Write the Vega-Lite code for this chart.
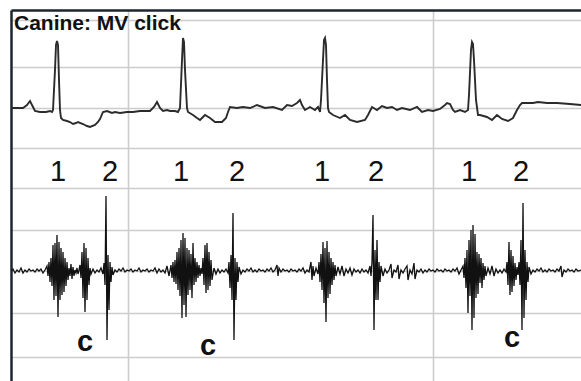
{
  "$schema": "https://vega.github.io/schema/vega-lite/v6.json",
  "width": 570,
  "height": 371,
  "autosize": "none",
  "padding": {"left": 11, "top": 10, "right": 0, "bottom": 0},
  "background": "white",
  "config": {"view": {"stroke": null}},
  "datasets": {
    "ecg": [
      {"t":11,"v":108},{"t":23,"v":108},{"t":27,"v":105},{"t":30,"v":101},{"t":33,"v":107},{"t":35,"v":111},{"t":40,"v":112},{"t":46,"v":112},{"t":50,"v":111},{"t":52,"v":112},{"t":53,"v":110},{"t":55,"v":70},{"t":56,"v":45},{"t":57,"v":41},{"t":58,"v":45},{"t":59,"v":80},{"t":60,"v":110},{"t":61,"v":118},{"t":63,"v":120},{"t":67,"v":121},{"t":70,"v":122},{"t":73,"v":124},{"t":76,"v":123},{"t":78,"v":122},{"t":83,"v":124},{"t":87,"v":126},{"t":90,"v":127},{"t":95,"v":125},{"t":98,"v":122},{"t":100,"v":119},{"t":103,"v":112},{"t":107,"v":111},{"t":112,"v":113},{"t":115,"v":112},{"t":120,"v":113},{"t":127,"v":112},{"t":133,"v":112},{"t":140,"v":111},{"t":145,"v":111},{"t":150,"v":111},{"t":154,"v":107},{"t":157,"v":102},{"t":160,"v":108},{"t":163,"v":111},{"t":167,"v":110},{"t":170,"v":111},{"t":175,"v":111},{"t":178,"v":112},{"t":180,"v":108},{"t":182,"v":60},{"t":183,"v":38},{"t":184,"v":42},{"t":185,"v":70},{"t":187,"v":108},{"t":188,"v":112},{"t":193,"v":115},{"t":197,"v":118},{"t":200,"v":120},{"t":203,"v":117},{"t":205,"v":115},{"t":210,"v":118},{"t":215,"v":122},{"t":222,"v":122},{"t":226,"v":118},{"t":228,"v":112},{"t":230,"v":107},{"t":237,"v":108},{"t":243,"v":107},{"t":250,"v":108},{"t":257,"v":105},{"t":265,"v":108},{"t":273,"v":107},{"t":282,"v":110},{"t":287,"v":105},{"t":292,"v":106},{"t":297,"v":103},{"t":300,"v":100},{"t":302,"v":105},{"t":305,"v":110},{"t":310,"v":107},{"t":315,"v":110},{"t":318,"v":107},{"t":320,"v":112},{"t":321,"v":100},{"t":323,"v":60},{"t":324,"v":40},{"t":325,"v":38},{"t":326,"v":45},{"t":327,"v":80},{"t":328,"v":108},{"t":329,"v":112},{"t":333,"v":115},{"t":340,"v":118},{"t":345,"v":115},{"t":350,"v":120},{"t":357,"v":122},{"t":365,"v":120},{"t":368,"v":115},{"t":372,"v":107},{"t":377,"v":110},{"t":382,"v":106},{"t":387,"v":108},{"t":392,"v":107},{"t":397,"v":110},{"t":402,"v":108},{"t":410,"v":110},{"t":417,"v":107},{"t":422,"v":112},{"t":428,"v":110},{"t":433,"v":111},{"t":440,"v":109},{"t":445,"v":105},{"t":447,"v":103},{"t":450,"v":104},{"t":453,"v":110},{"t":455,"v":112},{"t":460,"v":110},{"t":465,"v":112},{"t":468,"v":110},{"t":469,"v":95},{"t":471,"v":50},{"t":472,"v":42},{"t":473,"v":44},{"t":474,"v":60},{"t":476,"v":100},{"t":478,"v":115},{"t":480,"v":115},{"t":487,"v":117},{"t":492,"v":120},{"t":497,"v":115},{"t":502,"v":119},{"t":508,"v":121},{"t":513,"v":118},{"t":517,"v":110},{"t":520,"v":105},{"t":522,"v":103},{"t":533,"v":103},{"t":538,"v":102},{"t":547,"v":103},{"t":557,"v":103},{"t":570,"v":104},{"t":581,"v":105}
    ],
    "pcg": [
      {"t":11,"v":271},{"t":13,"v":269},{"t":15,"v":273},{"t":17,"v":270},{"t":19,"v":272},{"t":21,"v":268},{"t":23,"v":273},{"t":25,"v":270},{"t":27,"v":272},{"t":29,"v":269},{"t":31,"v":271},{"t":33,"v":270},{"t":35,"v":272},{"t":37,"v":269},{"t":39,"v":271},{"t":41,"v":269},{"t":43,"v":273},{"t":45,"v":270},{"t":47,"v":266},{"t":48,"v":276},
      {"t":49,"v":262},{"t":50,"v":282},{"t":51,"v":258},{"t":52,"v":286},{"t":53,"v":245},{"t":54,"v":300},{"t":55,"v":243},{"t":56,"v":296},{"t":57,"v":235},{"t":58,"v":317},{"t":59,"v":242},{"t":60,"v":300},{"t":61,"v":248},{"t":62,"v":295},{"t":63,"v":252},{"t":64,"v":292},{"t":65,"v":258},{"t":66,"v":286},{"t":67,"v":262},{"t":68,"v":280},{"t":69,"v":268},{"t":70,"v":276},{"t":71,"v":264},{"t":72,"v":279},{"t":73,"v":267},{"t":74,"v":276},{"t":75,"v":270},{"t":76,"v":273},{"t":77,"v":268},{"t":78,"v":274},{"t":79,"v":270},
      {"t":80,"v":265},{"t":81,"v":278},{"t":82,"v":252},{"t":83,"v":298},{"t":84,"v":243},{"t":85,"v":312},{"t":86,"v":248},{"t":87,"v":300},{"t":88,"v":258},{"t":89,"v":285},{"t":90,"v":268},{"t":91,"v":274},{"t":93,"v":269},{"t":95,"v":273},{"t":97,"v":270},{"t":99,"v":272},{"t":101,"v":268},{"t":103,"v":274},
      {"t":104,"v":263},{"t":105,"v":285},{"t":106,"v":196},{"t":107,"v":340},{"t":108,"v":255},{"t":109,"v":310},{"t":110,"v":262},{"t":111,"v":282},{"t":112,"v":267},{"t":113,"v":275},{"t":115,"v":270},
      {"t":117,"v":272},{"t":119,"v":269},{"t":121,"v":271},{"t":123,"v":268},{"t":125,"v":272},{"t":127,"v":270},{"t":129,"v":271},{"t":131,"v":269},{"t":133,"v":272},{"t":135,"v":270},{"t":137,"v":271},{"t":139,"v":268},{"t":141,"v":272},{"t":143,"v":270},{"t":145,"v":271},{"t":147,"v":269},{"t":149,"v":272},{"t":151,"v":270},{"t":153,"v":271},{"t":155,"v":268},{"t":157,"v":273},{"t":159,"v":269},{"t":161,"v":272},{"t":163,"v":270},{"t":165,"v":273},{"t":167,"v":266},{"t":169,"v":276},{"t":171,"v":265},{"t":172,"v":278},
      {"t":173,"v":262},{"t":174,"v":282},{"t":175,"v":260},{"t":176,"v":284},{"t":177,"v":252},{"t":178,"v":290},{"t":179,"v":248},{"t":180,"v":296},{"t":181,"v":240},{"t":182,"v":318},{"t":183,"v":233},{"t":184,"v":305},{"t":185,"v":238},{"t":186,"v":317},{"t":187,"v":248},{"t":188,"v":295},{"t":189,"v":250},{"t":190,"v":290},{"t":191,"v":254},{"t":192,"v":298},{"t":193,"v":243},{"t":194,"v":285},{"t":195,"v":258},{"t":196,"v":282},{"t":197,"v":262},{"t":198,"v":278},{"t":199,"v":265},{"t":200,"v":276},{"t":201,"v":268},{"t":202,"v":274},
      {"t":203,"v":258},{"t":204,"v":285},{"t":205,"v":245},{"t":206,"v":293},{"t":207,"v":243},{"t":208,"v":290},{"t":209,"v":252},{"t":210,"v":286},{"t":211,"v":260},{"t":212,"v":280},{"t":214,"v":268},{"t":216,"v":274},{"t":218,"v":269},{"t":220,"v":273},{"t":222,"v":270},{"t":224,"v":272},{"t":226,"v":269},{"t":228,"v":273},
      {"t":229,"v":262},{"t":230,"v":288},{"t":231,"v":255},{"t":232,"v":300},{"t":233,"v":213},{"t":234,"v":340},{"t":235,"v":258},{"t":236,"v":300},{"t":237,"v":262},{"t":238,"v":282},{"t":239,"v":267},{"t":241,"v":274},{"t":243,"v":270},
      {"t":245,"v":272},{"t":247,"v":269},{"t":249,"v":271},{"t":251,"v":268},{"t":253,"v":272},{"t":255,"v":270},{"t":257,"v":272},{"t":259,"v":269},{"t":261,"v":271},{"t":263,"v":270},{"t":265,"v":272},{"t":267,"v":269},{"t":269,"v":271},{"t":271,"v":268},{"t":273,"v":272},{"t":275,"v":270},{"t":277,"v":265},{"t":278,"v":276},{"t":279,"v":268},{"t":281,"v":272},{"t":283,"v":269},{"t":285,"v":271},{"t":287,"v":270},{"t":289,"v":272},{"t":291,"v":269},{"t":293,"v":271},{"t":295,"v":270},{"t":297,"v":272},{"t":299,"v":269},{"t":301,"v":271},{"t":303,"v":268},{"t":305,"v":273},{"t":307,"v":270},{"t":309,"v":272},{"t":311,"v":262},{"t":312,"v":280},{"t":313,"v":266},{"t":314,"v":276},{"t":316,"v":268},{"t":318,"v":274},
      {"t":319,"v":262},{"t":320,"v":282},{"t":321,"v":254},{"t":322,"v":290},{"t":323,"v":242},{"t":324,"v":303},{"t":325,"v":248},{"t":326,"v":322},{"t":327,"v":241},{"t":328,"v":298},{"t":329,"v":252},{"t":330,"v":294},{"t":331,"v":258},{"t":332,"v":285},{"t":333,"v":262},{"t":334,"v":280},{"t":335,"v":265},{"t":336,"v":276},{"t":338,"v":267},{"t":340,"v":274},{"t":342,"v":266},{"t":344,"v":276},{"t":346,"v":269},{"t":348,"v":273},{"t":350,"v":268},{"t":352,"v":275},{"t":354,"v":269},{"t":356,"v":272},{"t":358,"v":270},{"t":360,"v":273},{"t":362,"v":269},{"t":364,"v":272},{"t":366,"v":270},{"t":368,"v":273},{"t":370,"v":266},
      {"t":371,"v":276},{"t":372,"v":262},{"t":373,"v":215},{"t":374,"v":330},{"t":375,"v":250},{"t":376,"v":300},{"t":377,"v":240},{"t":378,"v":300},{"t":379,"v":262},{"t":380,"v":282},{"t":381,"v":266},{"t":383,"v":276},{"t":385,"v":269},{"t":387,"v":273},{"t":389,"v":270},{"t":391,"v":264},{"t":392,"v":278},{"t":394,"v":270},{"t":396,"v":272},{"t":398,"v":265},{"t":399,"v":279},{"t":401,"v":270},{"t":403,"v":273},{"t":405,"v":269},{"t":407,"v":266},{"t":408,"v":280},{"t":410,"v":270},{"t":412,"v":274},{"t":414,"v":263},{"t":415,"v":279},{"t":417,"v":270},{"t":419,"v":272},{"t":421,"v":269},{"t":423,"v":273},{"t":425,"v":270},{"t":427,"v":272},{"t":429,"v":269},{"t":431,"v":271},{"t":433,"v":270},{"t":435,"v":272},{"t":437,"v":269},{"t":439,"v":271},{"t":441,"v":270},{"t":443,"v":272},{"t":445,"v":269},{"t":447,"v":271},{"t":449,"v":270},{"t":451,"v":272},{"t":453,"v":269},{"t":455,"v":271},{"t":457,"v":268},{"t":459,"v":274},{"t":461,"v":270},{"t":463,"v":266},{"t":464,"v":278},
      {"t":465,"v":258},{"t":466,"v":288},{"t":467,"v":250},{"t":468,"v":313},{"t":469,"v":240},{"t":470,"v":296},{"t":471,"v":230},{"t":472,"v":330},{"t":473,"v":225},{"t":474,"v":318},{"t":475,"v":234},{"t":476,"v":298},{"t":477,"v":252},{"t":478,"v":294},{"t":479,"v":254},{"t":480,"v":283},{"t":481,"v":258},{"t":482,"v":288},{"t":483,"v":263},{"t":484,"v":280},{"t":485,"v":266},{"t":486,"v":276},{"t":488,"v":268},{"t":490,"v":274},{"t":492,"v":266},{"t":494,"v":276},{"t":496,"v":269},{"t":498,"v":273},{"t":500,"v":270},{"t":502,"v":273},{"t":504,"v":269},{"t":506,"v":272},
      {"t":507,"v":262},{"t":508,"v":285},{"t":509,"v":242},{"t":510,"v":295},{"t":511,"v":250},{"t":512,"v":292},{"t":513,"v":256},{"t":514,"v":286},{"t":515,"v":263},{"t":516,"v":280},{"t":517,"v":267},{"t":518,"v":275},
      {"t":519,"v":262},{"t":520,"v":285},{"t":521,"v":240},{"t":522,"v":330},{"t":523,"v":203},{"t":524,"v":318},{"t":525,"v":250},{"t":526,"v":300},{"t":527,"v":262},{"t":528,"v":282},{"t":529,"v":267},{"t":531,"v":274},{"t":533,"v":270},
      {"t":535,"v":272},{"t":537,"v":269},{"t":539,"v":271},{"t":541,"v":268},{"t":543,"v":272},{"t":545,"v":270},{"t":547,"v":272},{"t":549,"v":269},{"t":551,"v":271},{"t":553,"v":270},{"t":555,"v":272},{"t":557,"v":269},{"t":559,"v":271},{"t":561,"v":266},{"t":562,"v":277},{"t":564,"v":270},{"t":566,"v":272},{"t":568,"v":269},{"t":570,"v":271},{"t":572,"v":270},{"t":574,"v":272},{"t":576,"v":269},{"t":578,"v":271},{"t":581,"v":270}
    ],
    "digits": [
      {"t":58,"v":181,"s":"1"},{"t":110,"v":181,"s":"2"},
      {"t":181,"v":181,"s":"1"},{"t":237,"v":181,"s":"2"},
      {"t":322,"v":181,"s":"1"},{"t":376,"v":181,"s":"2"},
      {"t":469,"v":181,"s":"1"},{"t":521,"v":181,"s":"2"}
    ],
    "clicks": [
      {"t":85,"v":351,"s":"c"},{"t":208,"v":355,"s":"c"},{"t":512,"v":347,"s":"c"}
    ],
    "title": [{"t":14,"v":30,"s":"Canine: MV click"}]
  },
  "layer": [
    {
      "data": {"name": "ecg"},
      "mark": {"type": "line", "color": "#2b2b2b", "strokeWidth": 1.9, "clip": true},
      "encoding": {
        "x": {"field": "t", "type": "quantitative",
              "scale": {"domain": [11, 581], "nice": false, "zero": false},
              "axis": {"orient": "top", "values": [128, 433], "grid": true, "gridColor": "#cccccc", "gridWidth": 1.6, "labels": false, "ticks": false, "domain": true, "domainColor": "#1c2630", "domainWidth": 2.5, "title": null}},
        "y": {"field": "v", "type": "quantitative",
              "scale": {"domain": [10, 381], "reverse": true, "nice": false, "zero": false},
              "axis": {"orient": "left", "values": [20, 67, 108, 148, 188, 230, 271, 313, 357], "grid": true, "gridColor": "#cccccc", "gridWidth": 1.6, "labels": false, "ticks": false, "domain": true, "domainColor": "#1c2630", "domainWidth": 2.5, "title": null}}
      }
    },
    {
      "data": {"name": "pcg"},
      "mark": {"type": "line", "color": "#111111", "strokeWidth": 1.3, "clip": true},
      "encoding": {
        "x": {"field": "t", "type": "quantitative"},
        "y": {"field": "v", "type": "quantitative"}
      }
    },
    {
      "data": {"name": "digits"},
      "mark": {"type": "text", "font": "Liberation Sans", "fontSize": 29, "align": "center", "baseline": "alphabetic", "color": "#111111"},
      "encoding": {
        "x": {"field": "t", "type": "quantitative"},
        "y": {"field": "v", "type": "quantitative"},
        "text": {"field": "s"}
      }
    },
    {
      "data": {"name": "clicks"},
      "mark": {"type": "text", "font": "Liberation Sans", "fontSize": 29, "fontWeight": "bold", "align": "center", "baseline": "alphabetic", "color": "#111111"},
      "encoding": {
        "x": {"field": "t", "type": "quantitative"},
        "y": {"field": "v", "type": "quantitative"},
        "text": {"field": "s"}
      }
    },
    {
      "data": {"name": "title"},
      "mark": {"type": "text", "font": "Liberation Sans", "fontSize": 21, "fontWeight": "bold", "align": "left", "baseline": "alphabetic", "color": "#111111"},
      "encoding": {
        "x": {"field": "t", "type": "quantitative"},
        "y": {"field": "v", "type": "quantitative"},
        "text": {"field": "s"}
      }
    }
  ]
}
